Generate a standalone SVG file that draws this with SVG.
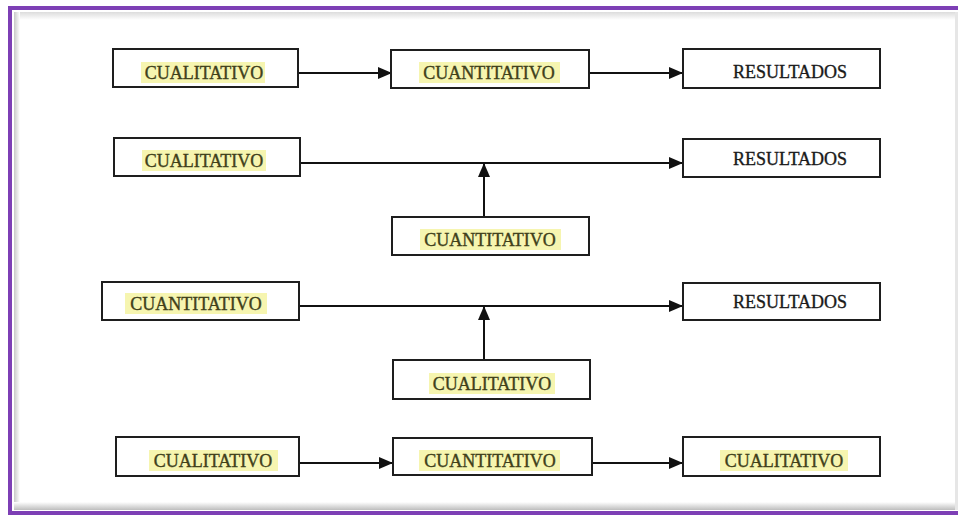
<svg xmlns="http://www.w3.org/2000/svg" width="958" height="516" viewBox="0 0 958 516">
<defs>
<style>
.box{fill:#fff;stroke:#1e1e1e;stroke-width:2}
.hl{fill:#f6f5b0}
.t{font-family:"Liberation Serif","Times New Roman",serif;font-size:18px;fill:#40401a;stroke:#40401a;stroke-width:0.35;text-anchor:middle}
.r{fill:#1a1a1a;stroke:#1a1a1a}
.c{stroke:#111;stroke-width:2;fill:none}
.pb{fill:#7d3fb5}
</style>
<marker id="ah" viewBox="0 0 14 12" refX="14" refY="6" markerWidth="14" markerHeight="12" markerUnits="userSpaceOnUse" orient="auto">
<path d="M0,0 L14,6 L0,12 Z" fill="#111"/>
</marker>
<linearGradient id="sh" x1="0" y1="0" x2="0" y2="1">
<stop offset="0" stop-color="#dcdcdc"/><stop offset="1" stop-color="#ffffff"/>
</linearGradient>
<linearGradient id="shb" x1="0" y1="0" x2="0" y2="1">
<stop offset="0" stop-color="#ffffff"/><stop offset="1" stop-color="#bdbdbd"/>
</linearGradient>
<linearGradient id="shl" x1="0" y1="0" x2="1" y2="0">
<stop offset="0" stop-color="#c8c8c8"/><stop offset="1" stop-color="#ffffff"/>
</linearGradient>
</defs>
<rect x="0" y="0" width="958" height="516" fill="#ffffff"/>
<rect x="14" y="12" width="944" height="8" fill="url(#sh)"/>
<rect x="14" y="12" width="6" height="498" fill="url(#shl)"/>
<rect x="14" y="502" width="944" height="8" fill="url(#shb)"/>
<rect x="955" y="12" width="3" height="498" fill="#e6e6e6"/>
<rect class="pb" x="8" y="6" width="950" height="4"/>
<rect class="pb" x="8" y="6" width="4" height="508"/>
<rect class="pb" x="8" y="511" width="950" height="4"/>
<g id="connectors">
<line class="c" x1="299" y1="73" x2="392" y2="73" marker-end="url(#ah)"/>
<line class="c" x1="590" y1="73" x2="683" y2="73" marker-end="url(#ah)"/>
<line class="c" x1="300" y1="163" x2="683" y2="163" marker-end="url(#ah)"/>
<line class="c" x1="484" y1="217" x2="484" y2="163" marker-end="url(#ah)"/>
<line class="c" x1="299" y1="306" x2="683" y2="306" marker-end="url(#ah)"/>
<line class="c" x1="484" y1="360" x2="484" y2="306" marker-end="url(#ah)"/>
<line class="c" x1="299" y1="463" x2="393" y2="463" marker-end="url(#ah)"/>
<line class="c" x1="592" y1="463" x2="683" y2="463" marker-end="url(#ah)"/>
</g>
<g id="n1"><rect class="box" x="113" y="49" width="185" height="38"/><rect class="hl" x="141" y="62" width="124" height="21"/><text class="t" x="204" y="79">CUALITATIVO</text></g>
<g id="n2"><rect class="box" x="391" y="50" width="198" height="38"/><rect class="hl" x="419" y="62" width="141" height="21"/><text class="t" x="489" y="79">CUANTITATIVO</text></g>
<g id="n3"><rect class="box" x="683" y="49" width="197" height="39"/><text class="t r" x="790" y="78">RESULTADOS</text></g>
<g id="n4"><rect class="box" x="114" y="138" width="186" height="38"/><rect class="hl" x="142" y="150" width="124" height="21"/><text class="t" x="204" y="167">CUALITATIVO</text></g>
<g id="n5"><rect class="box" x="683" y="139" width="197" height="38"/><text class="t r" x="790" y="165">RESULTADOS</text></g>
<g id="n6"><rect class="box" x="392" y="217" width="197" height="38"/><rect class="hl" x="420" y="229" width="141" height="21"/><text class="t" x="490" y="246">CUANTITATIVO</text></g>
<g id="n7"><rect class="box" x="102" y="282" width="197" height="38"/><rect class="hl" x="125" y="293" width="142" height="21"/><text class="t" x="196" y="310">CUANTITATIVO</text></g>
<g id="n8"><rect class="box" x="683" y="283" width="197" height="37"/><text class="t r" x="790" y="308">RESULTADOS</text></g>
<g id="n9"><rect class="box" x="393" y="360" width="197" height="39"/><rect class="hl" x="429" y="373" width="126" height="21"/><text class="t" x="492" y="390">CUALITATIVO</text></g>
<g id="n10"><rect class="box" x="116" y="437" width="183" height="39"/><rect class="hl" x="149" y="450" width="129" height="21"/><text class="t" x="213" y="467">CUALITATIVO</text></g>
<g id="n11"><rect class="box" x="393" y="438" width="199" height="37"/><rect class="hl" x="419" y="450" width="141" height="21"/><text class="t" x="490" y="467">CUANTITATIVO</text></g>
<g id="n12"><rect class="box" x="683" y="437" width="197" height="39"/><rect class="hl" x="720" y="450" width="128" height="21"/><text class="t" x="784" y="467">CUALITATIVO</text></g>
</svg>
